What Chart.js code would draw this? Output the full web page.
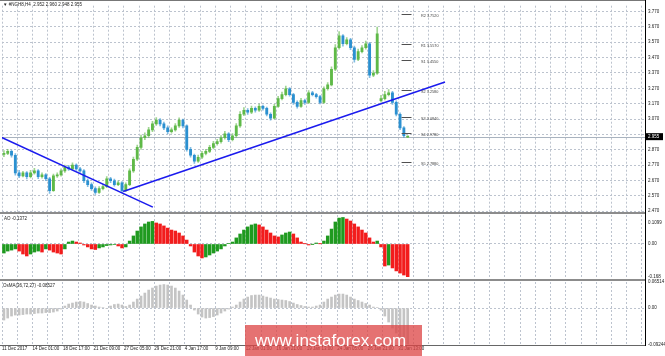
<!DOCTYPE html>
<html>
<head>
<meta charset="utf-8">
<script src="https://cdn.jsdelivr.net/npm/chart.js@4.4.1/dist/chart.umd.min.js"></script>
<style>
  html, body { margin: 0; padding: 0; background: #fff; }
  #wrap { position: relative; width: 665px; height: 356px; overflow: hidden; }
  #wrap canvas { position: absolute; left: 0; top: 0; }
  .rule { position: absolute; }
  #mark {
    position: absolute; left: 245px; top: 325px; width: 177px; height: 31px;
    background: rgba(221, 70, 70, 0.76); color: #fff; box-sizing: border-box;
    padding-left: 10px; font: 17px "Liberation Sans", Arial, sans-serif; line-height: 31px;
    white-space: nowrap;
  }
</style>
</head>
<body>
<div id="wrap">
  <canvas id="main" width="665" height="356"></canvas>
  <canvas id="ao" width="665" height="356"></canvas>
  <canvas id="osma" width="665" height="356"></canvas>
  <div class="rule" style="left:0;top:0;width:645px;height:1px;background:#777"></div>
  <div class="rule" style="left:0;top:212px;width:645px;height:2px;background:#8c8c8c"></div>
  <div class="rule" style="left:0;top:279px;width:645px;height:2px;background:#8c8c8c"></div>
  <div class="rule" style="left:0;top:345px;width:645px;height:1px;background:#666"></div>
  <div class="rule" style="left:645px;top:0;width:1px;height:346px;background:#000"></div>
  <div id="mark">www.instaforex.com</div>
</div>
<script>
// H4 bars, 11 Dec 2017 .. 31 Jan 2018
const xLabels = ["11 Dec 2017", "14 Dec 01:00", "18 Dec 17:00", "21 Dec 09:00", "27 Dec 05:00",
  "29 Dec 21:00", "4 Jan 17:00", "9 Jan 09:00", "12 Jan 01:00", "16 Jan 21:00",
  "19 Jan 13:00", "24 Jan 05:00", "26 Jan 21:00", "31 Jan 13:00"];

const opens = [2.840, 2.846, 2.859, 2.834, 2.719, 2.700, 2.719, 2.694, 2.719, 2.732,
  2.694, 2.706, 2.681, 2.604, 2.700, 2.706, 2.732, 2.757, 2.745, 2.770,
  2.745, 2.732, 2.668, 2.643, 2.617, 2.592, 2.617, 2.630, 2.681, 2.668,
  2.643, 2.655, 2.604, 2.643, 2.732, 2.808, 2.885, 2.948, 2.961, 2.999,
  3.038, 3.063, 3.038, 3.012, 2.987, 2.999, 3.025, 3.063, 3.025, 2.872,
  2.834, 2.796, 2.821, 2.846, 2.859, 2.885, 2.910, 2.923, 2.948, 2.974,
  2.936, 2.961, 3.025, 3.101, 3.127, 3.114, 3.139, 3.127, 3.152, 3.139,
  3.101, 3.076, 3.152, 3.203, 3.229, 3.267, 3.229, 3.178, 3.152, 3.190,
  3.178, 3.241, 3.229, 3.216, 3.178, 3.267, 3.292, 3.394, 3.534, 3.611,
  3.560, 3.585, 3.534, 3.458, 3.509, 3.534, 3.560, 3.356, 3.369, 3.190,
  3.203, 3.229, 3.241, 3.178, 3.101, 3.012, 2.952];
const highs = [2.865, 2.872, 2.868, 2.845, 2.735, 2.730, 2.728, 2.735, 2.748, 2.740,
  2.720, 2.715, 2.690, 2.712, 2.720, 2.745, 2.770, 2.768, 2.784, 2.778,
  2.755, 2.740, 2.680, 2.655, 2.628, 2.630, 2.645, 2.695, 2.690, 2.678,
  2.668, 2.662, 2.655, 2.745, 2.822, 2.900, 2.965, 2.980, 3.015, 3.055,
  3.080, 3.072, 3.050, 3.025, 3.012, 3.040, 3.078, 3.070, 3.032, 2.885,
  2.842, 2.835, 2.860, 2.872, 2.898, 2.925, 2.938, 2.962, 2.990, 2.982,
  2.975, 3.040, 3.118, 3.145, 3.138, 3.155, 3.150, 3.168, 3.160, 3.148,
  3.110, 3.165, 3.218, 3.245, 3.285, 3.275, 3.238, 3.188, 3.205, 3.200,
  3.255, 3.250, 3.238, 3.225, 3.280, 3.308, 3.410, 3.555, 3.640, 3.620,
  3.600, 3.595, 3.545, 3.525, 3.548, 3.578, 3.570, 3.385, 3.668, 3.225,
  3.250, 3.262, 3.250, 3.188, 3.110, 3.020, 2.960];
const lows = [2.825, 2.838, 2.822, 2.705, 2.688, 2.692, 2.680, 2.686, 2.710, 2.682,
  2.685, 2.668, 2.585, 2.598, 2.690, 2.698, 2.722, 2.735, 2.738, 2.735,
  2.722, 2.655, 2.630, 2.605, 2.578, 2.585, 2.608, 2.622, 2.655, 2.632,
  2.635, 2.590, 2.596, 2.635, 2.722, 2.798, 2.872, 2.935, 2.950, 2.988,
  3.028, 3.025, 3.000, 2.975, 2.978, 2.990, 3.015, 3.012, 2.860, 2.822,
  2.780, 2.788, 2.812, 2.836, 2.850, 2.875, 2.900, 2.912, 2.938, 2.922,
  2.928, 2.952, 3.015, 3.092, 3.100, 3.105, 3.115, 3.120, 3.128, 3.090,
  3.062, 3.070, 3.145, 3.195, 3.220, 3.218, 3.165, 3.140, 3.145, 3.165,
  3.170, 3.220, 3.205, 3.168, 3.172, 3.258, 3.285, 3.385, 3.525, 3.545,
  3.552, 3.522, 3.440, 3.450, 3.500, 3.525, 3.340, 3.345, 3.360, 3.180,
  3.195, 3.220, 3.165, 3.090, 3.000, 2.950, 2.948];
const closes = [2.846, 2.859, 2.834, 2.719, 2.700, 2.719, 2.694, 2.719, 2.732, 2.694,
  2.706, 2.681, 2.604, 2.700, 2.706, 2.732, 2.757, 2.745, 2.770, 2.745,
  2.732, 2.668, 2.643, 2.617, 2.592, 2.617, 2.630, 2.681, 2.668, 2.643,
  2.655, 2.604, 2.643, 2.732, 2.808, 2.885, 2.948, 2.961, 2.999, 3.038,
  3.063, 3.038, 3.012, 2.987, 2.999, 3.025, 3.063, 3.025, 2.872, 2.834,
  2.796, 2.821, 2.846, 2.859, 2.885, 2.910, 2.923, 2.948, 2.974, 2.936,
  2.961, 3.025, 3.101, 3.127, 3.114, 3.139, 3.127, 3.152, 3.139, 3.101,
  3.076, 3.152, 3.203, 3.229, 3.267, 3.229, 3.178, 3.152, 3.190, 3.178,
  3.241, 3.229, 3.216, 3.178, 3.267, 3.292, 3.394, 3.534, 3.611, 3.560,
  3.585, 3.534, 3.458, 3.509, 3.534, 3.560, 3.356, 3.369, 3.624, 3.203,
  3.229, 3.241, 3.178, 3.101, 3.012, 2.961, 2.955];

const aoValues = [-0.046, -0.036, -0.031, -0.025, -0.036, -0.051, -0.061, -0.051, -0.041, -0.036,
  -0.041, -0.025, -0.031, -0.041, -0.046, -0.051, -0.025, 0.010, 0.015, 0.010,
  0.005, -0.005, -0.015, -0.025, -0.028, -0.020, -0.015, -0.008, -0.005, -0.003,
  -0.010, -0.020, -0.015, 0.015, 0.041, 0.066, 0.087, 0.102, 0.112, 0.115,
  0.107, 0.102, 0.092, 0.081, 0.071, 0.066, 0.056, 0.041, 0.020, -0.010,
  -0.041, -0.061, -0.071, -0.066, -0.056, -0.046, -0.036, -0.025, -0.010, 0.002,
  0.010, 0.031, 0.051, 0.071, 0.087, 0.097, 0.102, 0.097, 0.087, 0.071,
  0.056, 0.041, 0.036, 0.046, 0.056, 0.061, 0.051, 0.031, 0.010, 0.001,
  -0.005, -0.001, 0.005, 0.001, 0.015, 0.041, 0.076, 0.112, 0.132, 0.135,
  0.127, 0.117, 0.102, 0.087, 0.071, 0.056, 0.031, 0.010, 0.015, -0.015,
  -0.112, -0.107, -0.122, -0.137, -0.148, -0.158, -0.168];

const osmaValues = [-0.0300, -0.0250, -0.0200, -0.0175, -0.0175, -0.0163, -0.0150, -0.0150, -0.0138, -0.0125,
  -0.0125, -0.0113, -0.0113, -0.0100, -0.0075, -0.0025, 0.0050, 0.0100, 0.0125, 0.0150,
  0.0163, 0.0150, 0.0113, 0.0075, 0.0050, 0.0025, 0.0013, -0.0013, 0.0050, 0.0088,
  0.0100, 0.0075, 0.0038, 0.0075, 0.0150, 0.0225, 0.0300, 0.0375, 0.0450, 0.0500,
  0.0550, 0.0575, 0.0588, 0.0575, 0.0550, 0.0500, 0.0425, 0.0325, 0.0200, 0.0075,
  -0.0050, -0.0150, -0.0225, -0.0250, -0.0238, -0.0213, -0.0175, -0.0125, -0.0075, -0.0025,
  0.0025, 0.0075, 0.0150, 0.0225, 0.0275, 0.0313, 0.0325, 0.0325, 0.0300, 0.0275,
  0.0250, 0.0225, 0.0213, 0.0200, 0.0188, 0.0163, 0.0125, 0.0088, 0.0063, 0.0038,
  0.0025, 0.0025, 0.0050, 0.0075, 0.0150, 0.0225, 0.0275, 0.0325, 0.0350, 0.0350,
  0.0325, 0.0275, 0.0225, 0.0188, 0.0150, 0.0113, 0.0075, 0.0025, 0.0013, -0.0050,
  -0.0200, -0.0350, -0.0500, -0.0625, -0.0750, -0.0850, -0.0900];

const priceTicks = [3.770, 3.670, 3.570, 3.470, 3.370, 3.270, 3.170, 3.070, 2.970, 2.870, 2.770, 2.670, 2.570, 2.470];
const aoTicks = [0.1099, 0, -0.168];
const osmaTicks = [0.06514, 0, -0.09244];

const pivotNames = ["R2", "R1", "S1", "S2", "S3", "S4", "S5"];
const pivotLevels = [3.7520, 3.5570, 3.4550, 3.2580, 3.0840, 2.9780, 2.7880];

const trendDown = [{ x: -1.0, y: 2.955 }, { x: 39.1, y: 2.496 }];
const trendUp = [{ x: 31.3, y: 2.598 }, { x: 115.8, y: 3.311 }];

const lastPrice = 2.955;
const mainTitle = "\u25BC #NGH8,H4  2.952 2.960 2.948 2.955";
const aoTitle = "AO -0.1372";
const osmaTitle = "OsMA(36,72,27) -0.08527";

// ---- look ----
const GRID = "#bcc3ce";
const FONT = { family: '"Liberation Sans", Arial, sans-serif', size: 4.5 };
const TXT = "#222";
const UP = "#5fb948", DOWN = "#2b90d0";
const gridAt = [];
for (let k = 0; k <= 42; k++) gridAt.push(-0.5 + 4 * k);

function xAxis(withLabels) {
  return {
    type: "linear", min: -0.5, max: 168.3, offset: false,
    afterBuildTicks: s => { s.ticks = gridAt.map(v => ({ value: v })); },
    afterFit: s => { s.height = withLabels ? 11 : 0; },
    grid: { color: GRID, lineWidth: 1, drawTicks: false, offset: false },
    border: { display: false, dash: [2, 2] },
    ticks: {
      display: withLabels, autoSkip: false, maxRotation: 0, minRotation: 0,
      align: "start", padding: 1, font: FONT, color: TXT,
      callback: (v, i) => (i % 2 === 0 && xLabels[i / 2]) ? xLabels[i / 2] : ""
    }
  };
}

function yAxis(min, max, vals, fmt, gridColor) {
  return {
    position: "right", min, max,
    afterBuildTicks: s => { s.ticks = vals.map(v => ({ value: v })); },
    afterFit: s => { s.width = 20; },
    grid: { color: gridColor, lineWidth: 1, drawTicks: false },
    border: { display: false, dash: [2, 2] },
    ticks: { font: FONT, color: TXT, padding: 3, callback: fmt }
  };
}

function label(ctx, text, x, y, size, color) {
  ctx.save();
  ctx.font = size + 'px "Liberation Sans", Arial, sans-serif';
  ctx.fillStyle = color;
  ctx.textBaseline = "middle";
  ctx.fillText(text, x, y);
  ctx.restore();
}

const base = {
  responsive: false, animation: false, devicePixelRatio: 1, events: [],
  plugins: { legend: { display: false }, tooltip: { enabled: false } }
};

// ---- price panel ----
const mainDeco = {
  id: "mainDeco",
  beforeDatasetsDraw(chart) {
    const { ctx, chartArea: a, scales: { y } } = chart;
    const py = Math.round(y.getPixelForValue(lastPrice)) + 0.5;
    ctx.save();
    ctx.strokeStyle = "#a9b3bf"; ctx.lineWidth = 1;
    ctx.beginPath(); ctx.moveTo(a.left, py); ctx.lineTo(a.right, py); ctx.stroke();
    ctx.restore();
  },
  afterDatasetsDraw(chart) {
    const { ctx, scales: { x, y } } = chart;
    const x0 = x.getPixelForValue(104.4), x1 = x.getPixelForValue(107), xt = x.getPixelForValue(109.5);
    ctx.save();
    ctx.strokeStyle = "#505050"; ctx.lineWidth = 1;
    pivotLevels.forEach((lv, i) => {
      const py = Math.round(y.getPixelForValue(lv)) + 0.5;
      ctx.beginPath(); ctx.moveTo(x0, py); ctx.lineTo(x1, py); ctx.stroke();
      label(ctx, pivotNames[i] + " " + lv.toFixed(4), xt, py + 1, 3.8, "#444");
    });
    ctx.restore();
  },
  afterDraw(chart) {
    const { ctx, chartArea: a, scales: { y } } = chart;
    const py = y.getPixelForValue(lastPrice);
    ctx.save();
    ctx.fillStyle = "#000";
    ctx.fillRect(a.right + 1, py - 3.5, 17, 7);
    ctx.restore();
    label(ctx, lastPrice.toFixed(3), a.right + 3, py, 4.5, "#fff");
    label(ctx, mainTitle, 3, 5, 4.5, TXT);
  }
};

new Chart(document.getElementById("main"), {
  type: "bar",
  data: {
    datasets: [
      {
        data: lows.map((l, i) => ({ x: i, y: [l, highs[i]] })),
        backgroundColor: closes.map((c, i) => c >= opens[i] ? "rgba(95,185,72,0.6)" : "rgba(43,144,208,0.6)"),
        barThickness: 1, grouped: false, borderWidth: 0, order: 2
      },
      {
        data: opens.map((o, i) => ({ x: i, y: [o, closes[i]] })),
        backgroundColor: closes.map((c, i) => c >= opens[i] ? UP : DOWN),
        barThickness: 2.2, minBarLength: 1, grouped: false, borderWidth: 0, order: 1
      },
      { type: "line", data: trendDown, borderColor: "#1b1bee", borderWidth: 1.6, pointRadius: 0, order: 0 },
      { type: "line", data: trendUp, borderColor: "#1b1bee", borderWidth: 1.6, pointRadius: 0, order: 0 }
    ]
  },
  options: {
    ...base,
    layout: { padding: { left: 2, top: 1, right: 0, bottom: 144 } },
    scales: {
      x: xAxis(false),
      y: yAxis(2.4643, 3.808, priceTicks, v => Math.abs(v - 2.97) < 1e-6 ? "" : v.toFixed(3), GRID)
    }
  },
  plugins: [mainDeco]
});

// ---- AO panel ----
new Chart(document.getElementById("ao"), {
  type: "bar",
  data: {
    datasets: [{
      data: aoValues.map((v, i) => ({ x: i, y: v })),
      backgroundColor: aoValues.map((v, i) => (i === 0 || v > aoValues[i - 1]) ? "#1f9a1f" : "#f21c1c"),
      barThickness: 2.8, borderWidth: 0
    }]
  },
  options: {
    ...base,
    layout: { padding: { left: 2, top: 215, right: 0, bottom: 79 } },
    scales: {
      x: xAxis(false),
      y: yAxis(-0.168, 0.1476, aoTicks, v => v === 0 ? "0.00" : String(v),
        c => (c.tick && c.tick.value === 0) ? GRID : "rgba(0,0,0,0)")
    }
  },
  plugins: [{ id: "aoTitle", afterDraw(chart) { label(chart.ctx, aoTitle, 4, 219, 4.5, TXT); } }]
});

// ---- OsMA panel ----
new Chart(document.getElementById("osma"), {
  type: "bar",
  data: {
    datasets: [{
      data: osmaValues.map((v, i) => ({ x: i, y: v })),
      backgroundColor: "#c4c4c4",
      barThickness: 2, borderWidth: 0
    }]
  },
  options: {
    ...base,
    layout: { padding: { left: 2, top: 282, right: 0, bottom: 0 } },
    scales: {
      x: xAxis(true),
      y: yAxis(-0.09244, 0.06514, osmaTicks, v => v === 0 ? "0.00" : String(v),
        c => (c.tick && c.tick.value === 0) ? GRID : "rgba(0,0,0,0)")
    }
  },
  plugins: [{ id: "osmaTitle", afterDraw(chart) { label(chart.ctx, osmaTitle, 3, 286, 4.5, TXT); } }]
});
</script>
</body>
</html>
